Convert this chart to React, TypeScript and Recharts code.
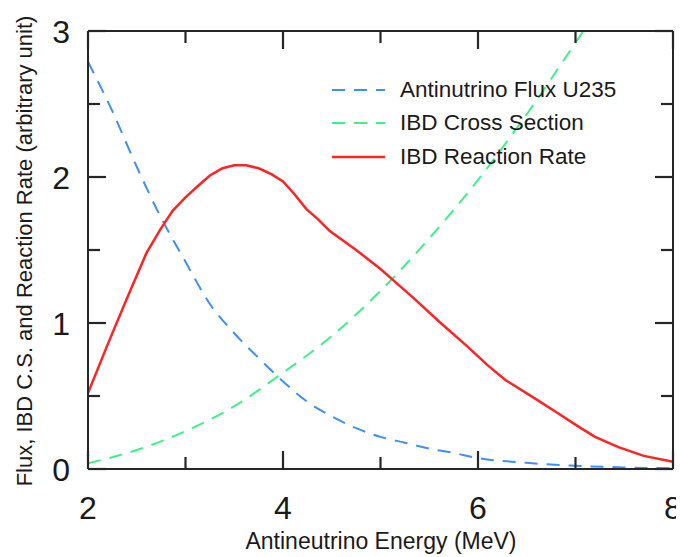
import React from 'react';
import { LineChart, Line, XAxis, YAxis, Legend } from 'recharts';

// values
const fluxEnergy = [2, 2.25, 2.5, 2.75, 3, 3.25, 3.5, 3.75, 4, 4.25, 4.5, 4.75, 5, 5.25, 5.5, 5.75, 6, 6.5, 7, 7.5, 8];
const fluxValues = [2.79, 2.45, 2.07, 1.72, 1.42, 1.13, 0.93, 0.76, 0.6, 0.46, 0.36, 0.28, 0.22, 0.18, 0.14, 0.11, 0.075, 0.042, 0.022, 0.011, 0.005];

const crossEnergy = [2, 2.5, 3, 3.5, 4, 4.5, 5, 5.5, 6, 6.5, 7, 7.08];
const crossValues = [0.04, 0.13, 0.26, 0.43, 0.66, 0.91, 1.22, 1.58, 1.98, 2.43, 2.92, 3.0];

const rateEnergy = [2, 2.2, 2.4, 2.6, 2.75, 2.87, 3, 3.13, 3.25, 3.38, 3.5, 3.62, 3.75, 3.88, 4, 4.12, 4.24, 4.36, 4.48, 4.75, 5, 5.17, 5.34, 5.6, 5.89, 6.1, 6.28, 6.59, 6.8, 7.03, 7.2, 7.44, 7.7, 8];
const rateValues = [0.52, 0.85, 1.17, 1.48, 1.65, 1.77, 1.86, 1.94, 2.01, 2.06, 2.08, 2.08, 2.06, 2.02, 1.97, 1.88, 1.78, 1.71, 1.63, 1.5, 1.37, 1.27, 1.17, 1.01, 0.84, 0.71, 0.61, 0.48, 0.39, 0.29, 0.22, 0.15, 0.09, 0.05];

const xMajorTicks = [2, 4, 6, 8];
const xMinorTicks = [3, 5, 7];
const yMajorTicks = [0, 1, 2, 3];
const yMinorTicks = [0.5, 1.5, 2.5];

const seriesNames = ['Antinutrino Flux U235', 'IBD Cross Section', 'IBD Reaction Rate'];
const xTitle = 'Antineutrino Energy (MeV)';
const yTitle = 'Flux, IBD C.S. and Reaction Rate (arbitrary unit)';

const toPoints = (xs: number[], ys: number[]) => xs.map((x, i) => ({ x, y: ys[i] }));
const fluxData = toPoints(fluxEnergy, fluxValues);
const crossData = toPoints(crossEnergy, crossValues);
const rateData = toPoints(rateEnergy, rateValues);

const W = 676;
const H = 549;
const FRAME = '#262626';
const INK = '#1a1a1a';
const FONT = '"Liberation Sans", Arial, Helvetica, sans-serif';
const MAJOR = 18;
const MINOR = 11;
const AXIS_SIZE = 1; // mirrored axes on one side stack by their size, keep it tiny
const axisLineStyle = { stroke: FRAME, strokeWidth: 2 };
const tickLineStyle = { stroke: FRAME, strokeWidth: 2.2 };

// axes are mirrored so ticks point inward; the label anchor sits MAJOR px inside the frame
const BottomLabel = ({ x, y, payload }: any) => (
  <text x={x} y={y + MAJOR + 50} textAnchor="middle" fontSize={32} fill={INK}>
    {payload.value}
  </text>
);

const LeftLabel = ({ x, y, payload }: any) => (
  <text x={x - MAJOR - 18} y={y + 11.5} textAnchor="end" fontSize={32} fill={INK}>
    {payload.value}
  </text>
);

const NoLabel = () => <g />;

const LegendBox = ({ payload }: any) => (
  <div>
    {(payload || []).map((entry: any) => (
      <div key={entry.value} style={{ display: 'flex', alignItems: 'center', height: 33.5 }}>
        <svg width={53} height={6} style={{ display: 'block' }}>
          <line
            x1={0}
            y1={3}
            x2={53}
            y2={3}
            stroke={entry.color}
            strokeWidth={entry.payload?.strokeWidth ?? 2}
            strokeDasharray={entry.payload?.strokeDasharray}
          />
        </svg>
        <span style={{ marginLeft: 15, fontSize: 22.5, color: INK, whiteSpace: 'nowrap' }}>{entry.value}</span>
      </div>
    ))}
  </div>
);

export default function App() {
  return (
    <div style={{ position: 'relative', width: W, height: H, fontFamily: FONT }}>
      <LineChart width={W} height={H} margin={{ top: 23, right: 11, left: 80, bottom: 88 }} style={{ fontFamily: FONT }}>
        <XAxis
          dataKey="x"
          type="number"
          orientation="bottom"
          mirror
          height={AXIS_SIZE}
          domain={[2, 8]}
          allowDataOverflow
          ticks={xMajorTicks}
          interval={0}
          tickSize={MAJOR}
          tickMargin={0}
          tickLine={tickLineStyle}
          tick={<BottomLabel />}
          axisLine={axisLineStyle}
        />
        <XAxis
          xAxisId="bottomMinor"
          dataKey="x"
          type="number"
          orientation="bottom"
          mirror
          height={AXIS_SIZE}
          domain={[2, 8]}
          allowDataOverflow
          ticks={xMinorTicks}
          interval={0}
          tickSize={MINOR}
          tickLine={tickLineStyle}
          tick={<NoLabel />}
          axisLine={false}
        />
        <XAxis
          xAxisId="top"
          dataKey="x"
          type="number"
          orientation="top"
          mirror
          height={AXIS_SIZE}
          domain={[2, 8]}
          allowDataOverflow
          ticks={xMajorTicks}
          interval={0}
          tickSize={MAJOR}
          tickLine={tickLineStyle}
          tick={<NoLabel />}
          axisLine={axisLineStyle}
        />
        <XAxis
          xAxisId="topMinor"
          dataKey="x"
          type="number"
          orientation="top"
          mirror
          height={AXIS_SIZE}
          domain={[2, 8]}
          allowDataOverflow
          ticks={xMinorTicks}
          interval={0}
          tickSize={MINOR}
          tickLine={tickLineStyle}
          tick={<NoLabel />}
          axisLine={false}
        />
        <YAxis
          type="number"
          orientation="left"
          mirror
          width={AXIS_SIZE}
          domain={[0, 3]}
          allowDataOverflow
          ticks={yMajorTicks}
          interval={0}
          tickSize={MAJOR}
          tickMargin={0}
          tickLine={tickLineStyle}
          tick={<LeftLabel />}
          axisLine={axisLineStyle}
        />
        <YAxis
          yAxisId="leftMinor"
          type="number"
          orientation="left"
          mirror
          width={AXIS_SIZE}
          domain={[0, 3]}
          allowDataOverflow
          ticks={yMinorTicks}
          interval={0}
          tickSize={MINOR}
          tickLine={tickLineStyle}
          tick={<NoLabel />}
          axisLine={false}
        />
        <YAxis
          yAxisId="right"
          type="number"
          orientation="right"
          mirror
          width={AXIS_SIZE}
          domain={[0, 3]}
          allowDataOverflow
          ticks={yMajorTicks}
          interval={0}
          tickSize={MAJOR}
          tickLine={tickLineStyle}
          tick={<NoLabel />}
          axisLine={axisLineStyle}
        />
        <YAxis
          yAxisId="rightMinor"
          type="number"
          orientation="right"
          mirror
          width={AXIS_SIZE}
          domain={[0, 3]}
          allowDataOverflow
          ticks={yMinorTicks}
          interval={0}
          tickSize={MINOR}
          tickLine={tickLineStyle}
          tick={<NoLabel />}
          axisLine={false}
        />
        <Legend
          layout="vertical"
          align="center"
          verticalAlign="middle"
          content={<LegendBox />}
          wrapperStyle={{ top: 65, left: 324, width: 320, height: 'auto' }}
        />
        <Line
          name={seriesNames[0]}
          data={fluxData}
          dataKey="y"
          type="monotone"
          stroke="#3f8ff6"
          strokeWidth={2}
          strokeDasharray="13 9"
          dot={false}
          activeDot={false}
          isAnimationActive={false}
        />
        <Line
          name={seriesNames[1]}
          data={crossData}
          dataKey="y"
          type="monotone"
          stroke="#3ff08a"
          strokeWidth={2}
          strokeDasharray="13 9"
          dot={false}
          activeDot={false}
          isAnimationActive={false}
        />
        <Line
          name={seriesNames[2]}
          data={rateData}
          dataKey="y"
          type="linear"
          stroke="#ff2424"
          strokeWidth={2.5}
          dot={false}
          activeDot={false}
          isAnimationActive={false}
        />
      </LineChart>
      <svg width={W} height={H} style={{ position: 'absolute', left: 0, top: 0, pointerEvents: 'none' }}>
        <text x={373} y={533} textAnchor="middle" dominantBaseline="central" fontSize={23} fill={INK}>
          {xTitle}
        </text>
        <text
          x={16}
          y={243}
          transform="rotate(-90 16 243)"
          textAnchor="middle"
          dominantBaseline="central"
          fontSize={22}
          fill={INK}
        >
          {yTitle}
        </text>
      </svg>
    </div>
  );
}
